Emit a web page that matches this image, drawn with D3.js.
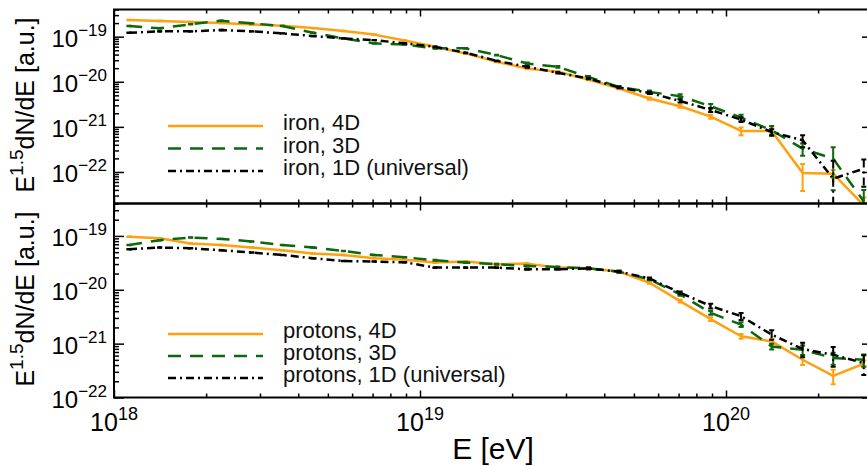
<!DOCTYPE html>
<html><head><meta charset="utf-8">
<script src="https://cdn.jsdelivr.net/npm/d3@7"></script>
<style>
html,body{margin:0;padding:0;background:#fff;}
svg{display:block;font-family:"Liberation Sans",Arial,Helvetica,sans-serif;}
</style></head><body>
<svg id="chart" width="867" height="466"></svg>
<script>
// ---------------- data ----------------
const energies = [1.12e18, 1.41e18, 1.78e18, 2.24e18, 2.82e18, 3.55e18, 4.47e18, 5.62e18, 7.08e18, 8.91e18,
  1.12e19, 1.41e19, 1.78e19, 2.24e19, 2.82e19, 3.55e19, 4.47e19, 5.62e19, 7.08e19, 8.91e19,
  1.12e20, 1.41e20, 1.78e20, 2.24e20, 2.82e20];

const iron4D = [2.34e-19, 2.22e-19, 2.11e-19, 2.00e-19, 1.86e-19, 1.75e-19, 1.55e-19, 1.33e-19, 1.11e-19, 8.19e-20,
  5.96e-20, 4.25e-20, 2.77e-20, 1.97e-20, 1.66e-20, 1.12e-20, 7.10e-21, 4.25e-21, 2.87e-21, 1.69e-21,
  8.11e-22, 8.11e-22, 9.44e-23, 9.16e-23, 1.81e-23];
const iron3D = [1.72e-19, 1.53e-19, 1.88e-19, 2.25e-19, 1.97e-19, 1.72e-19, 1.22e-19, 9.16e-20, 7.10e-20, 6.67e-20,
  5.50e-20, 5.50e-20, 3.90e-20, 2.55e-20, 2.14e-20, 1.28e-20, 7.70e-21, 5.96e-21, 4.78e-21, 2.87e-21,
  1.61e-21, 8.40e-22, 3.29e-22, 1.97e-22, 2.22e-23];
const iron1D = [1.22e-19, 1.31e-19, 1.31e-19, 1.40e-19, 1.31e-19, 1.18e-19, 1.03e-19, 9.16e-20, 8.40e-20, 7.10e-20,
  5.96e-20, 4.39e-20, 2.91e-20, 2.14e-20, 1.58e-20, 1.18e-20, 7.47e-21, 5.66e-21, 3.76e-21, 2.37e-21,
  1.45e-21, 7.70e-22, 5.04e-22, 7.10e-23, 1.18e-22];

const protons4D = [9.61e-20, 9.08e-20, 7.24e-20, 6.81e-20, 6.09e-20, 5.42e-20, 4.71e-20, 4.43e-20, 3.85e-20, 3.61e-20,
  3.20e-20, 3.34e-20, 2.97e-20, 3.06e-20, 2.58e-20, 2.50e-20, 2.17e-20, 1.35e-20, 6.15e-21, 2.86e-21,
  1.37e-21, 1.10e-21, 5.02e-22, 2.52e-22, 4.23e-22];
const protons3D = [6.81e-20, 8.34e-20, 9.36e-20, 8.81e-20, 7.88e-20, 6.81e-20, 6.09e-20, 5.26e-20, 4.43e-20, 4.02e-20,
  3.53e-20, 3.20e-20, 2.97e-20, 2.77e-20, 2.65e-20, 2.50e-20, 2.17e-20, 1.56e-20, 8.20e-21, 3.73e-21,
  2.26e-21, 8.89e-22, 7.71e-22, 5.40e-22, 5.02e-22];
const protons1D = [5.66e-20, 6.09e-20, 5.91e-20, 5.42e-20, 4.92e-20, 4.43e-20, 3.85e-20, 3.43e-20, 3.34e-20, 3.24e-20,
  2.58e-20, 2.58e-20, 2.58e-20, 2.40e-20, 2.40e-20, 2.50e-20, 2.17e-20, 1.63e-20, 8.81e-21, 5.00e-21,
  3.23e-21, 1.47e-21, 7.95e-22, 6.22e-22, 4.36e-22];

// relative (fractional) error of each point
const iron4DErr = [0.01,0.01,0.01,0.01,0.01,0.01,0.01,0.01,0.01,0.01,0.02,0.02,0.02,0.04,0.04,0.04,0.04,0.06,0.08,0.10,0.20,0.15,0.60,0.20,0.50];
const iron3DErr = [0.01,0.01,0.01,0.01,0.01,0.01,0.01,0.01,0.01,0.01,0.02,0.02,0.02,0.05,0.05,0.05,0.05,0.08,0.10,0.12,0.15,0.25,0.30,0.80,0.80];
const iron1DErr = [0.01,0.01,0.01,0.01,0.01,0.01,0.01,0.01,0.01,0.01,0.02,0.02,0.02,0.04,0.04,0.04,0.04,0.06,0.08,0.10,0.12,0.15,0.30,1.50,0.60];
const protons4DErr = [0.01,0.01,0.01,0.01,0.01,0.01,0.01,0.01,0.01,0.01,0.02,0.02,0.02,0.02,0.02,0.04,0.04,0.04,0.06,0.08,0.10,0.12,0.20,0.30,0.15];
const protons3DErr = [0.01,0.01,0.01,0.01,0.01,0.01,0.01,0.01,0.01,0.01,0.02,0.02,0.02,0.02,0.02,0.04,0.04,0.04,0.06,0.08,0.10,0.12,0.20,0.25,0.25];
const protons1DErr = [0.01,0.01,0.01,0.01,0.01,0.01,0.01,0.01,0.01,0.01,0.02,0.02,0.02,0.02,0.02,0.04,0.04,0.04,0.06,0.10,0.15,0.20,0.30,0.40,0.40];

const ironLabels = ["iron, 4D", "iron, 3D", "iron, 1D (universal)"];
const protonLabels = ["protons, 4D", "protons, 3D", "protons, 1D (universal)"];
const xTickLabels = [{v: 1e18, exp: "18"}, {v: 1e19, exp: "19"}, {v: 1e20, exp: "20"}];
const yTickLabels = [{v: 1e-19, exp: "\u221219"}, {v: 1e-20, exp: "\u221220"}, {v: 1e-21, exp: "\u221221"}, {v: 1e-22, exp: "\u221222"}];

// ---------------- styles ----------------
const styles = [
  {color: "#ffa010", dash: null},
  {color: "#0c680c", dash: "13,9"},
  {color: "#000000", dash: "8,4,2,4"}
];

// ---------------- drawing ----------------
const svg = d3.select("#chart");
const x0 = 114, xDecade = 306;
const x = d3.scaleLog().domain([1e18, 3e20]).range([x0, x0 + xDecade * Math.log10(300)]);
const xR = x.range()[1];

const panels = [
  {top: 9.5, bottom: 203.5, domain: [2e-23, 4e-19],
   series: [iron4D, iron3D, iron1D], errs: [iron4DErr, iron3DErr, iron1DErr],
   labels: ironLabels, legendY: [126, 148.5, 171], titleY: 105},
  {top: 203.5, bottom: 397.5, domain: [1e-22, 4e-19],
   series: [protons4D, protons3D, protons1D], errs: [protons4DErr, protons3DErr, protons1DErr],
   labels: protonLabels, legendY: [334, 356, 378], titleY: 299}
];

const isMajor = d => Math.abs(Math.log10(d) - Math.round(Math.log10(d))) < 1e-6;
const defs = svg.append("defs");

panels.forEach((p, pi) => {
  const y = d3.scaleLog().domain(p.domain).range([p.bottom, p.top]);
  const clipId = "clip" + pi;
  defs.append("clipPath").attr("id", clipId).append("rect")
    .attr("x", x0).attr("y", p.top).attr("width", xR - x0).attr("height", p.bottom - p.top);

  // axes (ticks only, inward)
  const yT = y.ticks();
  const xT = x.ticks();
  const gl = svg.append("g").attr("transform", `translate(${x0},0)`)
    .call(d3.axisLeft(y).tickValues(yT).tickSizeInner(-5).tickSizeOuter(0).tickFormat(""));
  gl.selectAll(".tick line").filter(isMajor).attr("x2", 10);
  const gr = svg.append("g").attr("transform", `translate(${xR},0)`)
    .call(d3.axisRight(y).tickValues(yT).tickSizeInner(-5).tickSizeOuter(0).tickFormat(""));
  gr.selectAll(".tick line").filter(isMajor).attr("x2", -10);
  const gb = svg.append("g").attr("transform", `translate(0,${p.bottom})`)
    .call(d3.axisBottom(x).tickValues(xT).tickSizeInner(-4).tickSizeOuter(0).tickFormat(""));
  gb.selectAll(".tick line").filter(isMajor).attr("y2", -7);
  const gt = svg.append("g").attr("transform", `translate(0,${p.top})`)
    .call(d3.axisTop(x).tickValues(xT).tickSizeInner(-4).tickSizeOuter(0).tickFormat(""));
  gt.selectAll(".tick line").filter(isMajor).attr("y2", 7);
  [gl, gr, gb, gt].forEach(g => {
    g.select(".domain").remove();
    g.selectAll(".tick line").attr("stroke", "#000").attr("stroke-width", 1.5);
  });

  // y tick labels
  yTickLabels.forEach(t => {
    const tx = svg.append("text").attr("x", 107).attr("y", y(t.v) + 10)
      .attr("text-anchor", "end").attr("font-size", 24).attr("fill", "#000");
    tx.append("tspan").text("10");
    tx.append("tspan").attr("font-size", 17).attr("dy", -11).text(t.exp);
  });

  // y axis title
  const yt = svg.append("text").attr("transform", `translate(34,${p.titleY}) rotate(-90)`)
    .attr("text-anchor", "middle").attr("font-size", 25).attr("fill", "#000");
  yt.append("tspan").text("E");
  yt.append("tspan").attr("font-size", 19).attr("dy", -11).text("1.5");
  yt.append("tspan").attr("dy", 11).text("dN/dE [a.u.]");

  // data
  const gData = svg.append("g").attr("clip-path", `url(#${clipId})`);
  const lo = p.domain[0] / 10;
  p.series.forEach((vals, si) => {
    const st = styles[si];
    const pts = energies.map((e, i) => ({e, v: vals[i], f: p.errs[si][i]}));
    const line = d3.line().x(d => x(d.e)).y(d => y(d.v));
    gData.append("path").datum(pts).attr("d", line)
      .attr("fill", "none").attr("stroke", st.color).attr("stroke-width", 2.5)
      .attr("stroke-dasharray", st.dash).attr("stroke-linejoin", "round");
    const eb = gData.append("g").attr("stroke", st.color).attr("stroke-width", 2);
    pts.forEach(d => {
      const up = d.v * (1 + d.f);
      const dn = Math.max(d.v * (1 - d.f), lo);
      const cx = x(d.e);
      eb.append("line").attr("x1", cx).attr("x2", cx).attr("y1", y(up)).attr("y2", y(dn))
        .attr("stroke-dasharray", st.dash);
      eb.append("line").attr("x1", cx - 2.5).attr("x2", cx + 2.5).attr("y1", y(up)).attr("y2", y(up));
      eb.append("line").attr("x1", cx - 2.5).attr("x2", cx + 2.5).attr("y1", y(dn)).attr("y2", y(dn));
    });
  });

  // legend
  p.labels.forEach((lab, si) => {
    const st = styles[si];
    const ly = p.legendY[si];
    svg.append("line").attr("x1", 168).attr("x2", 263).attr("y1", ly).attr("y2", ly)
      .attr("stroke", st.color).attr("stroke-width", 2.5).attr("stroke-dasharray", st.dash);
    svg.append("text").attr("x", 283).attr("y", ly + 4).attr("font-size", 22).attr("fill", "#111").text(lab);
  });

  // frame
  svg.append("rect").attr("x", x0).attr("y", p.top).attr("width", xR - x0).attr("height", p.bottom - p.top)
    .attr("fill", "none").attr("stroke", "#000").attr("stroke-width", 2);
});

// x tick labels
xTickLabels.forEach(t => {
  const tx = svg.append("text").attr("x", x(t.v)).attr("y", 431)
    .attr("text-anchor", "middle").attr("font-size", 25).attr("fill", "#000");
  tx.append("tspan").text("10");
  tx.append("tspan").attr("font-size", 18).attr("dy", -11).text(t.exp);
});

// x axis title
svg.append("text").attr("x", (x0 + xR) / 2).attr("y", 459).attr("text-anchor", "middle")
  .attr("font-size", 30).attr("fill", "#000").text("E [eV]");
</script>
</body></html>
